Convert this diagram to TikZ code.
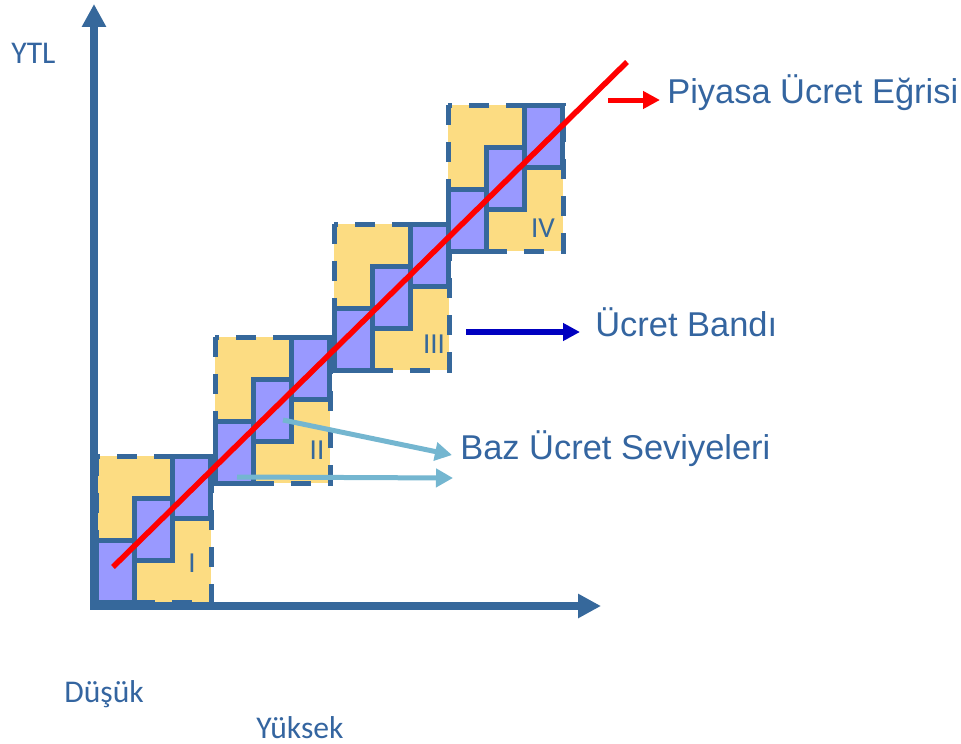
\documentclass[tikz,border=0pt]{standalone}
\usepackage{fontspec}
\setmainfont{Liberation Sans}
\newfontfamily\calibri{Carlito}
\usepackage{tikz}
\usetikzlibrary{
    arrows.meta
}
\definecolor{EdgeBlue}{RGB}{54,104,155}
\definecolor{TextBlue}{RGB}{52,101,160}
\definecolor{BandYellow}{RGB}{252,220,130}
\definecolor{StepPurple}{RGB}{153,153,255}
\definecolor{PointerBlue}{RGB}{116,182,208}
\definecolor{BandArrow}{RGB}{0,0,192}
\tikzset{
  axisarr/.style   = {-{Triangle[length=0.46cm, width=0.46cm]},
                      line width=0.16cm, line cap=rect, EdgeBlue},
  blockedge/.style = {EdgeBlue, line width=0.1cm,
                      dash pattern=on 0.4cm off 0.34cm},
  stepcell/.style  = {draw=EdgeBlue, fill=StepPurple, line width=0.1cm},
  ptr/.style       = {-{Triangle[length=0.34cm, width=0.36cm]},
                      line width=0.1cm, PointerBlue}
}

\begin{document}
\begin{tikzpicture}[
    x=0.02cm, y=-0.02cm,
    lbl/.style={font=\fontsize{19.6}{23}\selectfont, text=TextBlue,
                inner sep=0pt, anchor=base west},
    axlbl/.style={font=\calibri\fontsize{18}{21}\selectfont, text=TextBlue,
                  inner sep=0pt, anchor=base west},
    numlbl/.style={font=\calibri\fontsize{16.5}{19}\selectfont, text=EdgeBlue,
                   inner sep=0pt, anchor=base},
    curve/.style={red, line width=0.11cm}
]
\useasboundingbox (0,0) rectangle (961,744);

% wage bands I-IV
\foreach \bx/\by/\lbl/\nx/\ny in {96/456/I/192/572, 215/337/II/317/459,
                                  334/224/III/434/353, 448/105/IV/543/237} {
  \fill[BandYellow] (\bx,\by) rectangle ++(115,146);
  \draw[blockedge] (\bx,\by) rectangle ++(115,146);
  \foreach \j in {0,1,2}
    \draw[stepcell] ({\bx+\j*38.33},{\by+(2-\j)*42}) rectangle ++(38.33,62);
  \node[numlbl] (num\lbl) at (\nx,\ny) {\lbl};
}

% axes
\coordinate (O) at (94,606);
\coordinate (ytip) at (94,4);
\coordinate (xtip) at (601,606);
\draw[axisarr] (O) -- (ytip);
\draw[axisarr] (O) -- (xtip);

% market curve
\coordinate (egriA) at (113,567);
\coordinate (egriB) at (627,62);
\draw[curve] (egriA) -- (egriB);

% labels
\node[lbl] (piyasa) at (667,103) {Piyasa Ücret Eğrisi};
\node[lbl] (bant) at (595,336) {Ücret Bandı};
\node[lbl] (baz) at (460,459) {Baz Ücret Seviyeleri};
\node[axlbl] (ytl) at (11,63) {YTL};
\node[axlbl] (dusuk) at (64,702) {Düşük};
\node[axlbl] (yuksek) at (256,738) {Yüksek};

% pointers
\coordinate (p1) at (608,100);
\coordinate (p1e) at (660,100);
\draw[curve, line width=0.1cm, -{Triangle[length=0.34cm, width=0.34cm]}] (p1) -- (p1e);
\coordinate (p2) at (466,332);
\coordinate (p2e) at (580,332);
\draw[-{Triangle[length=0.34cm, width=0.34cm]}, line width=0.12cm, BandArrow]
    (p2) -- (p2e);
\coordinate (p3) at (283,420);
\coordinate (p3e) at (452,455);
\coordinate (p4) at (237,477);
\coordinate (p4e) at (453,478);
\draw[ptr] (p3) -- (p3e);
\draw[ptr] (p4) -- (p4e);
\end{tikzpicture}
\end{document}
